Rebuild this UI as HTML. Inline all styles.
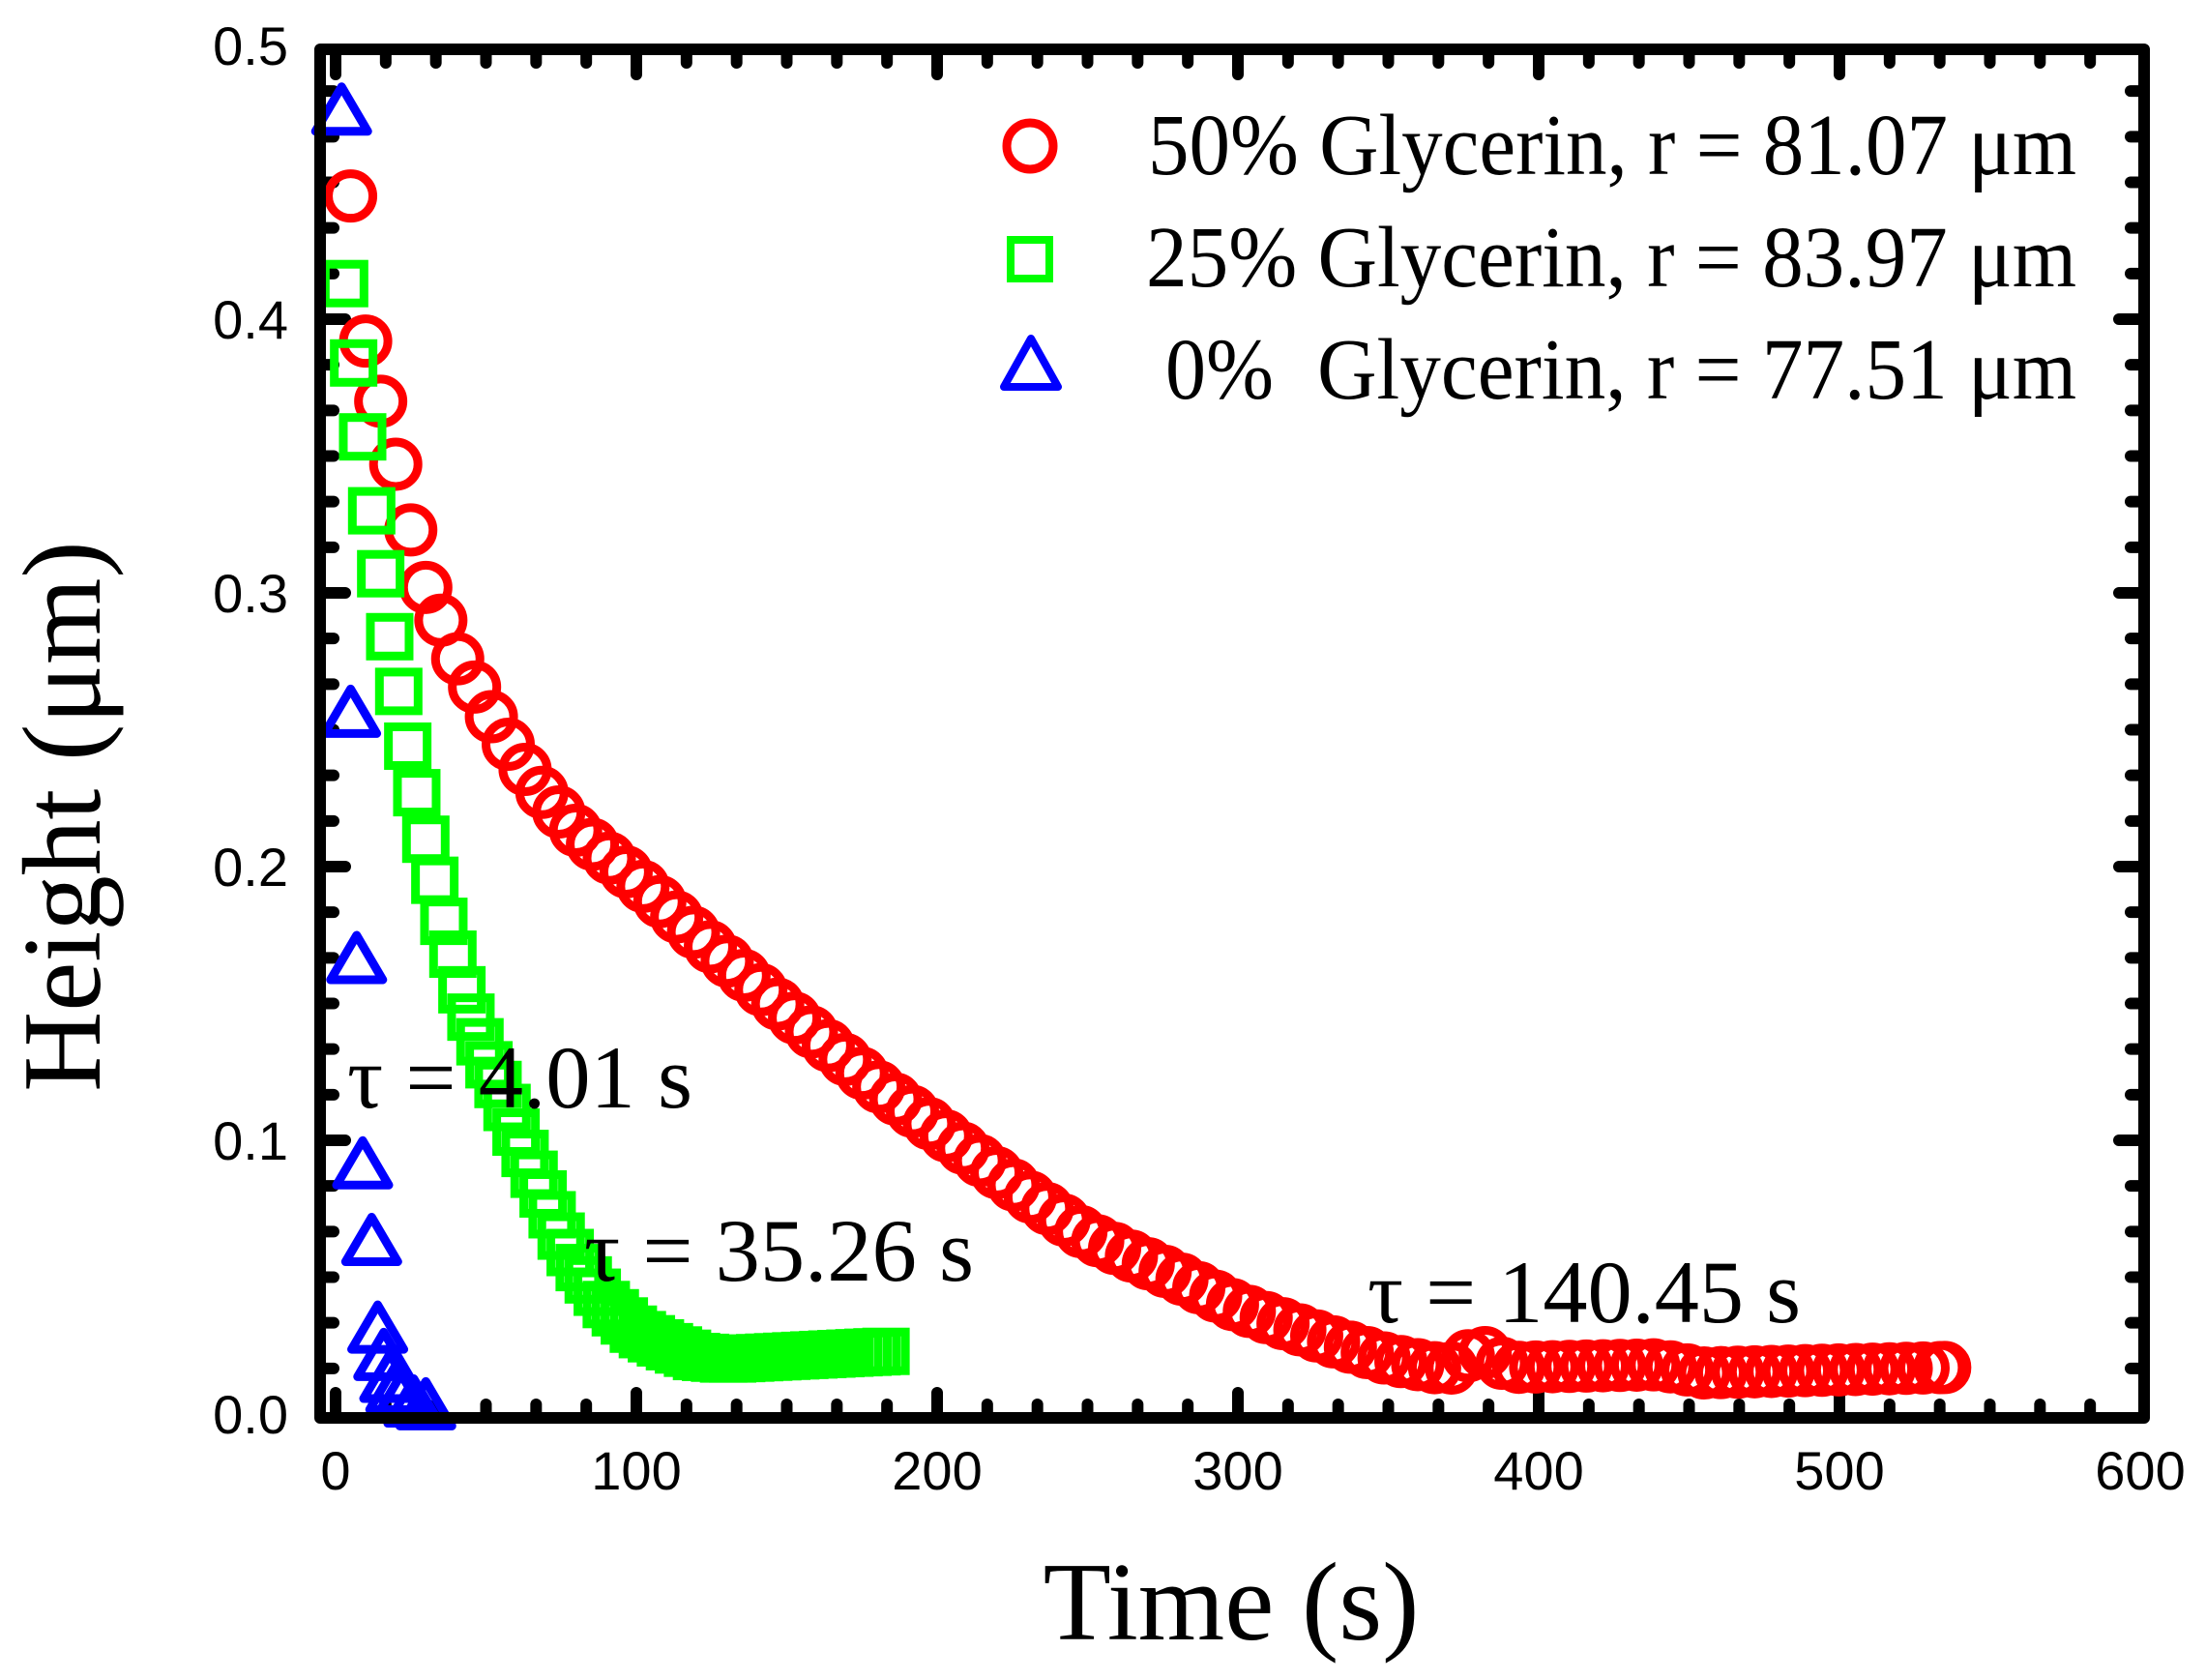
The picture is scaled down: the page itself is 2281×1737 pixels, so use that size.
<!DOCTYPE html>
<html><head><meta charset="utf-8"><style>
html,body{margin:0;padding:0;background:#fff;}
svg{display:block;}
</style></head><body>
<svg id="s" xmlns="http://www.w3.org/2000/svg" width="2281" height="1737" viewBox="0 0 2281 1737">
<rect width="2281" height="1737" fill="#fff"/>
<g id="ticks" stroke="#000" stroke-width="12" stroke-linecap="round"></g>
<g id="data" fill="none" stroke-width="9"></g>
<rect x="331" y="51" width="1886" height="1415" fill="none" stroke="#000" stroke-width="12" stroke-linejoin="round"/>
<g font-family="Liberation Sans, sans-serif" font-size="56" fill="#000" text-anchor="end">
<text x="298" y="1482">0.0</text>
<text x="298" y="1199">0.1</text>
<text x="298" y="916">0.2</text>
<text x="298" y="633">0.3</text>
<text x="298" y="350">0.4</text>
<text x="298" y="67">0.5</text>
</g>
<g font-family="Liberation Sans, sans-serif" font-size="56" fill="#000" text-anchor="middle">
<text x="347" y="1540">0</text>
<text x="658" y="1540">100</text>
<text x="969" y="1540">200</text>
<text x="1280" y="1540">300</text>
<text x="1591" y="1540">400</text>
<text x="1902" y="1540">500</text>
<text x="2213" y="1540">600</text>
</g>
<text x="1273" y="1695" font-family="Liberation Serif, serif" font-size="115" text-anchor="middle">Time (s)</text>
<text transform="translate(103,844) rotate(-90)" font-family="Liberation Serif, serif" font-size="115" text-anchor="middle">Height (μm)</text>
<g font-family="Liberation Serif, serif" font-size="90" fill="#000">
<text x="1187" y="180" textLength="960" lengthAdjust="spacingAndGlyphs">50% Glycerin, r = 81.07 μm</text>
<text x="1185" y="296" textLength="962" lengthAdjust="spacingAndGlyphs">25% Glycerin, r = 83.97 μm</text>
<text x="1205" y="412" textLength="112" lengthAdjust="spacingAndGlyphs">0%</text>
<text x="1362" y="412" textLength="785" lengthAdjust="spacingAndGlyphs">Glycerin, r = 77.51 μm</text>
</g>
<circle cx="1065" cy="151" r="24" fill="none" stroke="#f00" stroke-width="9"/>
<rect x="1045" y="248" width="40" height="40" fill="none" stroke="#0f0" stroke-width="8"/>
<polygon points="1066,350 1094,400 1038,400" fill="none" stroke="#00f" stroke-width="8" stroke-linejoin="round"/>
<g font-family="Liberation Serif, serif" font-size="92" fill="#000">
<text x="359" y="1145" textLength="357" lengthAdjust="spacingAndGlyphs">τ = 4.01 s</text>
<text x="604" y="1324" textLength="403" lengthAdjust="spacingAndGlyphs">τ = 35.26 s</text>
<text x="1414" y="1367" textLength="448" lengthAdjust="spacingAndGlyphs">τ = 140.45 s</text>
</g>
</svg>
<script>
(function(){
var NS="http://www.w3.org/2000/svg";
function X(t){return 347+3.11*t;}
function Y(v){return 1462-2830*v;}
function interp(p,t){for(var i=0;i<p.length-1;i++){if(t<=p[i+1][0]){var a=p[i],b=p[i+1];return a[1]+(b[1]-a[1])*(t-a[0])/(b[0]-a[0]);}}return p[p.length-1][1];}
function el(n,a,par){var e=document.createElementNS(NS,n);for(var k in a)e.setAttribute(k,a[k]);par.appendChild(e);return e;}
var tk=document.getElementById('ticks');
for(var i=0;i<=36;i++){var t=i*100/6;var x=X(t);var maj=(i%6==0);var L=maj?26:14;
 if(x<338||x>2211)continue;
 el('line',{x1:x,y1:1466,x2:x,y2:1466-L},tk);el('line',{x1:x,y1:51,x2:x,y2:51+L},tk);}
for(var i=0;i<=30;i++){var v=i*0.1/6;var y=Y(v);var maj=(i%6==0);var L=maj?26:14;
 if(y<57||y>1460)continue;
 el('line',{x1:331,y1:y,x2:331+L,y2:y},tk);el('line',{x1:2217,y1:y,x2:2217-L,y2:y},tk);}
var g=document.getElementById('data');
var red=[[5,0.445],[10,0.392],[15,0.37],[20,0.347],[25,0.323],[30,0.302],[35,0.29],[40,0.277],[45,0.268],[50,0.258],[60,0.24],[70,0.225],[80,0.213],[100,0.195],[120,0.175],[150,0.147],[180,0.12],[200,0.104],[230,0.08],[250,0.065],[280,0.05],[300,0.039],[330,0.027],[350,0.02],[370,0.016],[380,0.024],[390,0.017],[440,0.018],[455,0.015],[535,0.017]];
var ts=[5,10,15,20,25,30];for(var t=35;t<=535;t+=5.6)ts.push(t);ts.push(535);
ts.forEach(function(t){el('circle',{cx:X(t),cy:Y(interp(red,t)),r:23,stroke:'#f00'},g);});
var grn=[[3,0.413],[6,0.384],[9,0.357],[12,0.33],[15,0.307],[18,0.284],[21,0.264],[24,0.244],[27,0.227],[30,0.21],[33,0.195],[36,0.18],[39,0.168],[42,0.155],[45,0.145],[50,0.13],[55,0.118],[60,0.103],[65,0.09],[70,0.078],[75,0.065],[80,0.055],[90,0.04],[100,0.03],[110,0.025],[120,0.021],[130,0.02],[185,0.023]];
for(var t=3;t<=183;t+=3){var v=interp(grn,t);el('rect',{x:X(t)-20,y:Y(v)-20,width:40,height:40,stroke:'#0f0'},g);}
var blu=[[2,0.475],[5,0.255],[7,0.165],[9,0.09],[12,0.062],[14,0.03],[16,0.02],[18,0.012],[20,0.008],[22,0.005],[26,0.003],[30,0.002]];
blu.forEach(function(p){var x=X(p[0]),y=Y(p[1]);el('polygon',{points:(x)+','+(y-28)+' '+(x+27)+','+(y+18)+' '+(x-27)+','+(y+18),stroke:'#00f','stroke-linejoin':'round'},g);});
})();
</script>
</body></html>
